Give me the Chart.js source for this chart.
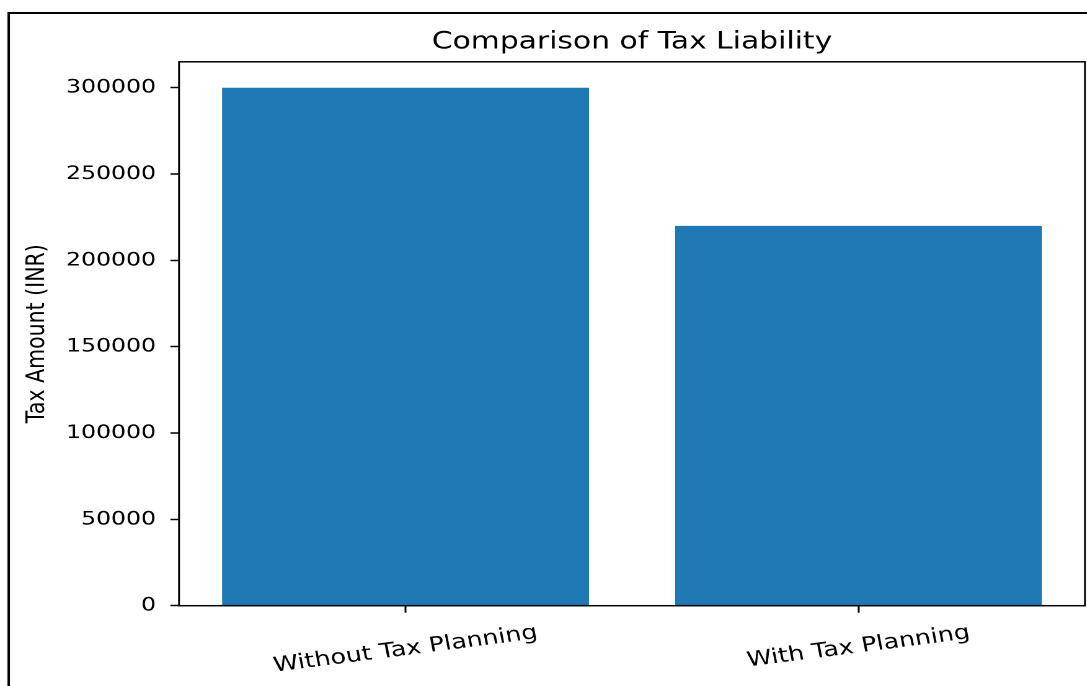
<!DOCTYPE html>
<html>
<head>
<meta charset="utf-8">
<script src="https://cdn.jsdelivr.net/npm/chart.js@4"></script>
<style>
    html, body { margin: 0; padding: 0; background: #fff; overflow: hidden; }
    /* the reference picture is stretched sideways, so the chart is drawn narrow and widened */
    #wrap { width: 877px; height: 686px; transform: scaleX(1.24); transform-origin: 0 0; }
</style>
</head>
<body>
<div id="wrap"><canvas id="taxChart"></canvas></div>
<script>
// Chart data
const categories = ['Without Tax Planning', 'With Tax Planning'];
const taxAmounts = [300000, 220000];
const yTicks = [0, 50000, 100000, 150000, 200000, 250000, 300000];

const FONT = "'DejaVu Sans', sans-serif";
const X_LABEL_ANGLE = 9; // degrees

/**
 * Outer figure border plus the four plot spines
 */
const framePlugin = {
    id: 'frame',
    beforeDraw(chart) {
        const ctx = chart.ctx;
        ctx.save();
        ctx.strokeStyle = '#000';
        ctx.lineWidth = 2;
        ctx.strokeRect(7, 13, 2000, 2000);
        ctx.restore();
    },
    afterDatasetsDraw(chart) {
        const a = chart.chartArea;
        const ctx = chart.ctx;
        ctx.save();
        ctx.strokeStyle = '#000';
        ctx.lineWidth = 1.5;
        ctx.strokeRect(a.left, a.top, a.right - a.left, a.bottom - a.top);
        ctx.restore();
    }
};

/**
 * Rotated x tick labels, centred under each tick like matplotlib does
 */
const xLabelPlugin = {
    id: 'xLabels',
    afterDraw(chart) {
        const scale = chart.scales.x;
        const ctx = chart.ctx;
        const size = 20.5;
        const angle = X_LABEL_ANGLE * Math.PI / 180;
        ctx.save();
        ctx.font = size + 'px ' + FONT;
        ctx.fillStyle = '#000';
        ctx.textAlign = 'center';
        ctx.textBaseline = 'middle';
        categories.forEach((label, i) => {
            const x = scale.getPixelForTick(i);
            const w = ctx.measureText(label).width;
            const boxH = w * Math.sin(angle) + size * 1.17 * Math.cos(angle);
            const y = 621 + boxH / 2;
            ctx.save();
            ctx.translate(x, y);
            ctx.rotate(-angle);
            ctx.fillText(label, 0, 0);
            ctx.restore();
        });
        ctx.restore();
    }
};

function initTaxChart() {
    const canvas = document.getElementById('taxChart');
    if (!canvas) {
        console.error('Canvas not found');
        return;
    }

    new Chart(canvas.getContext('2d'), {
        type: 'bar',
        data: {
            labels: categories,
            datasets: [{
                label: 'Tax Amount',
                data: taxAmounts,
                backgroundColor: '#1f77b4',
                borderWidth: 0,
                barPercentage: 0.81,
                categoryPercentage: 1.0
            }]
        },
        options: {
            responsive: true,
            maintainAspectRatio: false,
            animation: false,
            devicePixelRatio: 2,
            layout: {
                padding: { left: 0, right: 2, top: 0, bottom: 0 }
            },
            plugins: {
                legend: { display: false },
                tooltip: { enabled: false },
                title: {
                    display: true,
                    text: 'Comparison of Tax Liability',
                    fullSize: false,
                    color: '#000',
                    font: { family: FONT, size: 24, weight: 'normal' },
                    padding: { top: 28, bottom: 5 }
                }
            },
            scales: {
                x: {
                    offset: true,
                    border: { display: false },
                    grid: {
                        offset: false,
                        drawOnChartArea: false,
                        drawTicks: true,
                        tickLength: 7,
                        tickWidth: 1.5,
                        tickColor: '#000'
                    },
                    ticks: { display: false },
                    afterFit(scale) {
                        scale.height = 80.3;
                    }
                },
                y: {
                    min: 0,
                    max: 315000,
                    border: { display: false },
                    grid: {
                        drawOnChartArea: false,
                        drawTicks: true,
                        tickLength: 7,
                        tickWidth: 1.5,
                        tickColor: '#000'
                    },
                    afterBuildTicks(scale) {
                        scale.ticks = yTicks.map(v => ({ value: v }));
                    },
                    ticks: {
                        autoSkip: false,
                        padding: 11.6,
                        color: '#000',
                        font: { family: FONT, size: 19 },
                        callback: function(value) {
                            return String(value);
                        }
                    },
                    title: {
                        display: true,
                        text: 'Tax Amount (INR)',
                        color: '#000',
                        font: { family: FONT, size: 20.5 },
                        padding: { top: 18, bottom: 0 }
                    },
                    afterFit(scale) {
                        scale.width = 144.4;
                    }
                }
            }
        },
        plugins: [framePlugin, xLabelPlugin]
    });
}

document.addEventListener('DOMContentLoaded', initTaxChart);
</script>
</body>
</html>
